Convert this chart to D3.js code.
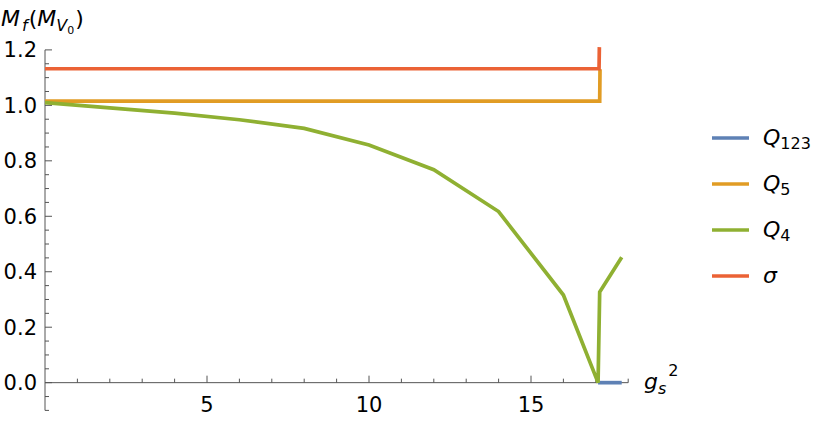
<!DOCTYPE html>
<html>
<head>
<meta charset="utf-8">
<script src="https://cdn.jsdelivr.net/npm/d3@7"></script>
<style>
  html, body { margin: 0; padding: 0; background: #fff; }
  svg { display: block; }
</style>
</head>
<body>
<svg id="chart" width="830" height="421"></svg>
<script>
// ---- data ----
const seriesNames = ["Q123", "Q5", "Q4", "σ"];
const seriesColors = ["#5E81B5", "#E19C24", "#8FB032", "#EB6235"];

const q123X = [17.07, 17.8];
const q123Y = [0, 0];

const q5X = [0, 17.12, 17.13];
const q5Y = [1.015, 1.015, 1.13];

const q4X = [0, 2, 4, 6, 8, 10, 12, 14, 16, 17.07, 17.12, 17.8];
const q4Y = [1.01, 0.991, 0.972, 0.948, 0.917, 0.857, 0.768, 0.617, 0.316, 0, 0.327, 0.452];

const sigmaX = [0, 17.1, 17.11];
const sigmaY = [1.132, 1.132, 1.21];

const xMajorTicks = [5, 10, 15];
const xMinorTicks = [1, 2, 3, 4, 6, 7, 8, 9, 11, 12, 13, 14, 16, 17, 18];
const yMajorTicks = [0, 0.2, 0.4, 0.6, 0.8, 1.0, 1.2];
const yMinorTicks = [-0.1, -0.05, 0.05, 0.1, 0.15, 0.25, 0.3, 0.35, 0.45, 0.5, 0.55, 0.65, 0.7, 0.75, 0.85, 0.9, 0.95, 1.05, 1.1, 1.15];

// ---- layout ----
const svg = d3.select("#chart").attr("font-family", "DejaVu Sans");
const x = d3.scaleLinear().domain([0, 18]).range([45, 628.2]);
const y = d3.scaleLinear().domain([-0.1, 1.2]).range([410.4, 49.9]);
const axisColor = "#555";
const FS = 21;

// axes lines
svg.append("line").attr("x1", x(0)).attr("x2", x(0)).attr("y1", y(-0.1)).attr("y2", y(1.2))
  .attr("stroke", axisColor).attr("stroke-width", 1);
svg.append("line").attr("x1", x(0)).attr("x2", x(18)).attr("y1", y(0)).attr("y2", y(0))
  .attr("stroke", axisColor).attr("stroke-width", 1);

// y ticks (pointing right)
svg.append("g").selectAll("line").data(yMajorTicks).join("line")
  .attr("x1", x(0)).attr("x2", x(0) + 7).attr("y1", d => y(d)).attr("y2", d => y(d))
  .attr("stroke", axisColor);
svg.append("g").selectAll("line").data(yMinorTicks).join("line")
  .attr("x1", x(0)).attr("x2", x(0) + 4).attr("y1", d => y(d)).attr("y2", d => y(d))
  .attr("stroke", axisColor);
svg.append("g").selectAll("text").data(yMajorTicks).join("text")
  .attr("x", 37).attr("y", d => y(d)).attr("dy", "0.36em")
  .attr("text-anchor", "end").attr("font-size", FS).attr("fill", "#000")
  .text(d => d3.format(".1f")(d));

// x ticks (pointing up)
svg.append("g").selectAll("line").data(xMajorTicks).join("line")
  .attr("x1", d => x(d)).attr("x2", d => x(d)).attr("y1", y(0)).attr("y2", y(0) - 7)
  .attr("stroke", axisColor);
svg.append("g").selectAll("line").data(xMinorTicks).join("line")
  .attr("x1", d => x(d)).attr("x2", d => x(d)).attr("y1", y(0)).attr("y2", y(0) - 4)
  .attr("stroke", axisColor);
svg.append("g").selectAll("text").data(xMajorTicks).join("text")
  .attr("x", d => x(d)).attr("y", 412)
  .attr("text-anchor", "middle").attr("font-size", FS).attr("fill", "#000")
  .text(d => d);

// series
const series = [
  { xs: q123X, ys: q123Y },
  { xs: q5X, ys: q5Y },
  { xs: q4X, ys: q4Y },
  { xs: sigmaX, ys: sigmaY }
];
const line = d3.line().x(d => x(d[0])).y(d => y(d[1]));
series.forEach((s, i) => {
  svg.append("path")
    .attr("d", line(s.xs.map((v, j) => [v, s.ys[j]])))
    .attr("fill", "none")
    .attr("stroke", seriesColors[i])
    .attr("stroke-width", 3.7)
    .attr("stroke-linejoin", "miter");
});

// axis titles
const title = svg.append("text").attr("x", 1).attr("y", 26).attr("font-size", 22).attr("fill", "#000");
title.append("tspan").attr("font-style", "italic").text("M");
title.append("tspan").attr("font-style", "italic").attr("font-size", 16).attr("dx", 2).attr("dy", 5).text("f");
title.append("tspan").attr("dy", -5).attr("dx", 1).text("(");
title.append("tspan").attr("font-style", "italic").text("M");
title.append("tspan").attr("font-style", "italic").attr("font-size", 16).attr("dy", 5).text("V");
title.append("tspan").attr("font-size", 11).attr("dy", 3).text("0");
title.append("tspan").attr("dx", 1).attr("dy", -8).text(")");

const xt = svg.append("text").attr("x", 644).attr("y", 389).attr("font-size", 22).attr("fill", "#000");
xt.append("tspan").attr("font-style", "italic").text("g");
xt.append("tspan").attr("font-style", "italic").attr("font-size", 16).attr("dy", 5).text("s");
xt.append("tspan").attr("font-size", 16).attr("dx", 2).attr("dy", -18).text("2");

// legend
const legend = svg.append("g");
const legendY = [138, 184, 230, 276];
const subs = ["123", "5", "4", ""];
seriesNames.forEach((name, i) => {
  legend.append("line").attr("x1", 712).attr("x2", 749).attr("y1", legendY[i]).attr("y2", legendY[i])
    .attr("stroke", seriesColors[i]).attr("stroke-width", 3.7);
  const t = legend.append("text").attr("x", 763).attr("y", legendY[i] + 7)
    .attr("font-size", 22).attr("fill", "#000");
  if (i < 3) {
    t.append("tspan").attr("font-style", "italic").text("Q");
    t.append("tspan").attr("font-size", 16).attr("dy", 4).text(subs[i]);
  } else {
    t.append("tspan").attr("font-style", "italic").text("σ");
  }
});
</script>
</body>
</html>
